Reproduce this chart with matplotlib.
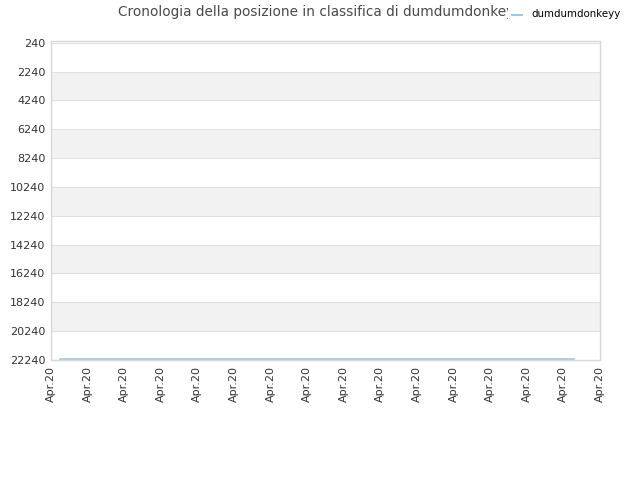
import matplotlib
matplotlib.use('Agg')
import matplotlib.pyplot as plt
from matplotlib.patches import Rectangle

title = 'Cronologia della posizione in classifica di dumdumdonkeyy'
series_name = 'dumdumdonkeyy'
tick_labels = ['Apr.20'] * 16
y_ticks = [240, 2240, 4240, 6240, 8240, 10240, 12240, 14240, 16240, 18240, 20240, 22240]

# rank over time (x in tick units)
line_x = [0.25, 2.0, 4.0, 6.0, 8.0, 10.0, 12.0, 14.3]
line_y = [22180, 22180, 22180, 22180, 22180, 22180, 22180, 22180]

fig = plt.figure(figsize=(6.4, 4.8), dpi=100)
ax = fig.add_axes([51 / 640, 1 - 360 / 480, 549 / 640, 319 / 480])

ax.set_ylim(y_ticks[-1], y_ticks[0] - 120)
ax.set_xlim(0, len(tick_labels) - 1)

for i in range(len(y_ticks) - 1):
    if i % 2 == 1:
        ax.axhspan(y_ticks[i], y_ticks[i + 1], color='#f2f2f2', zorder=0, lw=0)
for v in y_ticks:
    ax.axhline(v, color='#e0e0e0', lw=0.8, zorder=1)

ax.plot(line_x, line_y, color='#99c8ee', lw=1.2, zorder=3)

ax.set_yticks(y_ticks)
ax.set_yticklabels([str(v) for v in y_ticks], fontsize=8, color='#333333')
ax.set_xticks(range(len(tick_labels)))
ax.set_xticklabels(tick_labels, rotation=90, fontsize=8, color='#333333')
ax.tick_params(length=0, pad=4)

for s in ax.spines.values():
    s.set_color('#d8d8d8')
    s.set_linewidth(1)

fig.text(0.5, 0.974, title, ha='center', va='center', fontsize=9.8, color='#4a4a4a')
# legend box covers the end of the title, as in the original
fig.patches.append(Rectangle((508 / 640, 0.94), 0.2, 0.06, transform=fig.transFigure,
                             facecolor='white', edgecolor='none', zorder=5))
fig.lines.append(plt.Line2D([512 / 640, 522 / 640], [0.968, 0.968], color='#99c8ee', lw=1.5,
                            transform=fig.transFigure, zorder=6))
fig.text(531 / 640, 0.97, series_name, ha='left', va='center', fontsize=7.4,
         color='#000000', zorder=6)

fig.savefig('out.png', dpi=100)
